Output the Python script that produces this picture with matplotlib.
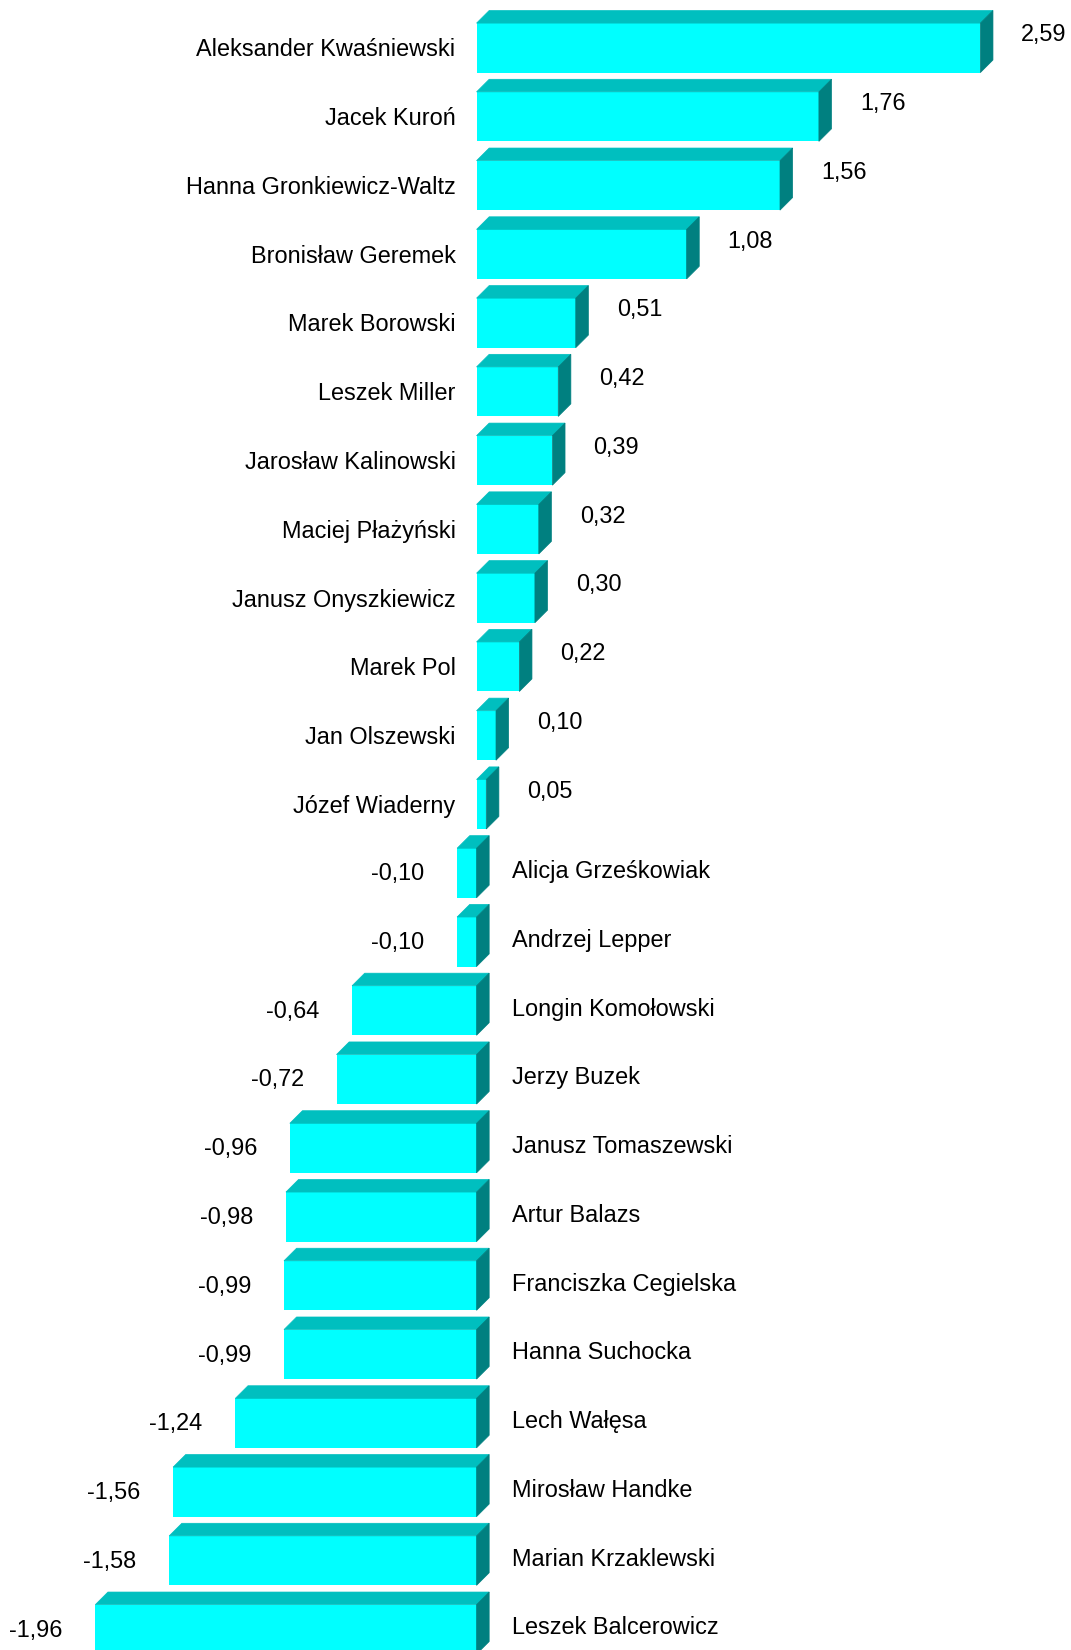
import matplotlib
matplotlib.use("Agg")
import matplotlib.pyplot as plt
from matplotlib.patches import Polygon

names = ["Aleksander Kwaśniewski", "Jacek Kuroń", "Hanna Gronkiewicz-Waltz",
         "Bronisław Geremek", "Marek Borowski", "Leszek Miller",
         "Jarosław Kalinowski", "Maciej Płażyński", "Janusz Onyszkiewicz",
         "Marek Pol", "Jan Olszewski", "Józef Wiaderny", "Alicja Grześkowiak",
         "Andrzej Lepper", "Longin Komołowski", "Jerzy Buzek",
         "Janusz Tomaszewski", "Artur Balazs", "Franciszka Cegielska",
         "Hanna Suchocka", "Lech Wałęsa", "Mirosław Handke",
         "Marian Krzaklewski", "Leszek Balcerowicz"]
values = [2.59, 1.76, 1.56, 1.08, 0.51, 0.42, 0.39, 0.32, 0.30, 0.22, 0.10,
          0.05, -0.10, -0.10, -0.64, -0.72, -0.96, -0.98, -0.99, -0.99,
          -1.24, -1.56, -1.58, -1.96]
value_labels = ["2,59", "1,76", "1,56", "1,08", "0,51", "0,42", "0,39", "0,32",
                "0,30", "0,22", "0,10", "0,05", "-0,10", "-0,10", "-0,64",
                "-0,72", "-0,96", "-0,98", "-0,99", "-0,99", "-1,24", "-1,56",
                "-1,58", "-1,96"]

FRONT = "#00FFFF"
TOP = "#00BFBF"
SIDE = "#008080"

plt.rcParams['font.family'] = ['Liberation Sans', 'DejaVu Sans']
fig = plt.figure(figsize=(10.71, 16.5), dpi=100)
ax = fig.add_axes([0, 0, 1, 1])
ax.set_xlim(-2.450, 3.056)
ax.set_ylim(23.30, -0.696)
ax.axis('off')

h = 0.72
dx = 0.0648
dy = 0.183
fs = 16.9

ys = list(range(len(values)))
ax.barh(ys, values, height=h, left=0, color=FRONT, linewidth=0, zorder=2)

for i, (v, nm, lab) in enumerate(zip(values, names, value_labels)):
    x0, x1 = min(v, 0), max(v, 0)
    yt, yb = i - h / 2, i + h / 2
    top = Polygon([(x0, yt), (x1, yt), (x1 + dx, yt - dy), (x0 + dx, yt - dy)],
                  closed=True, facecolor=TOP, edgecolor=TOP, linewidth=0.5, zorder=2)
    side = Polygon([(x1, yt), (x1 + dx, yt - dy), (x1 + dx, yb - dy), (x1, yb)],
                   closed=True, facecolor=SIDE, edgecolor=SIDE, linewidth=0.5, zorder=2)
    ax.add_patch(top)
    ax.add_patch(side)
    if v >= 0:
        ax.text(-0.108, i + 0.03, nm, ha='right', va='center', fontsize=fs)
        ax.text(v + dx + 0.146, i - 0.19, lab, ha='left', va='center', fontsize=fs)
    else:
        ax.text(dx + 0.119, i - 0.02, nm, ha='left', va='center', fontsize=fs)
        ax.text(v - 0.168, i + 0.01, lab, ha='right', va='center', fontsize=fs)

fig.savefig("out.png", dpi=100)
